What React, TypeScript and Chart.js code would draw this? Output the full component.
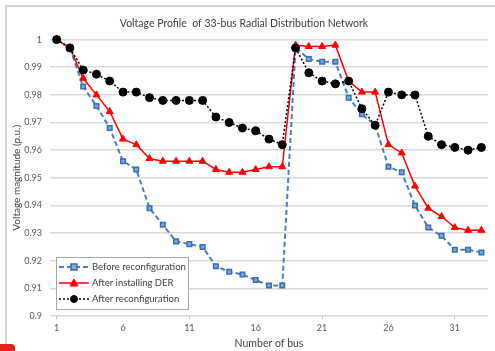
import React, { useEffect, useRef } from "react";
import { Chart, registerables } from "chart.js";

Chart.register(...registerables);

const buses = Array.from({ length: 33 }, (_, i) => String(i + 1));

const beforeReconfig = [
  1.0, 0.997, 0.983, 0.976, 0.968, 0.956, 0.953, 0.939, 0.933, 0.927, 0.926,
  0.925, 0.918, 0.916, 0.915, 0.913, 0.911, 0.911, 0.997, 0.993, 0.992, 0.992,
  0.979, 0.973, 0.969, 0.954, 0.952, 0.94, 0.932, 0.929, 0.924, 0.924, 0.923,
];

const afterDER = [
  1.0, 0.997, 0.986, 0.98, 0.974, 0.964, 0.962, 0.957, 0.956, 0.956, 0.956,
  0.956, 0.953, 0.952, 0.952, 0.953, 0.954, 0.954, 0.998, 0.9975, 0.9975, 0.998,
  0.985, 0.981, 0.981, 0.962, 0.959, 0.947, 0.939, 0.936, 0.932, 0.931, 0.931,
];

const afterReconfig = [
  1.0, 0.997, 0.989, 0.9875, 0.985, 0.981, 0.981, 0.979, 0.978, 0.978, 0.978,
  0.978, 0.972, 0.97, 0.968, 0.967, 0.964, 0.962, 0.997, 0.988, 0.985, 0.984,
  0.985, 0.975, 0.969, 0.981, 0.98, 0.98, 0.965, 0.962, 0.961, 0.96, 0.961,
];

const seriesNames = [
  "Before reconfiguration",
  "After installing DER",
  "After reconfiguration",
];

const FONT = "Lato";

const legendPlugin = {
  id: "insideLegend",
  afterDraw(chart: any) {
    const { ctx, chartArea } = chart;
    const x0 = chartArea.left + 6;
    const y0 = chartArea.bottom - 59;
    const w = 132;
    const h = 52;
    ctx.save();
    ctx.fillStyle = "#ffffff";
    ctx.fillRect(x0, y0, w, h);
    ctx.strokeStyle = "#a6a6a6";
    ctx.lineWidth = 1;
    ctx.strokeRect(x0 + 0.5, y0 + 0.5, w, h);
    chart.data.datasets.forEach((ds: any, i: number) => {
      const cy = y0 + 10 + i * 16;
      const lx1 = x0 + 3;
      const lx2 = x0 + 33;
      ctx.beginPath();
      ctx.setLineDash(ds.borderDash || []);
      ctx.strokeStyle = ds.borderColor;
      ctx.lineWidth = ds.borderWidth;
      ctx.moveTo(lx1, cy);
      ctx.lineTo(lx2, cy);
      ctx.stroke();
      ctx.setLineDash([]);
      const mx = (lx1 + lx2) / 2;
      ctx.fillStyle = ds.pointBackgroundColor;
      ctx.strokeStyle = ds.pointBorderColor;
      ctx.lineWidth = ds.pointBorderWidth;
      ctx.beginPath();
      if (ds.pointStyle === "rect") {
        ctx.rect(mx - 3, cy - 3, 6, 6);
      } else if (ds.pointStyle === "triangle") {
        ctx.moveTo(mx, cy - 4);
        ctx.lineTo(mx + 4, cy + 3);
        ctx.lineTo(mx - 4, cy + 3);
        ctx.closePath();
      } else {
        ctx.arc(mx, cy, 3.5, 0, Math.PI * 2);
      }
      ctx.fill();
      ctx.stroke();
      ctx.fillStyle = "#404040";
      ctx.font = `9.5px ${FONT}`;
      ctx.textBaseline = "middle";
      ctx.textAlign = "left";
      ctx.fillText(ds.label, x0 + 36, cy);
    });
    ctx.restore();
  },
};

export default function App() {
  const ref = useRef<HTMLCanvasElement | null>(null);

  useEffect(() => {
    if (!ref.current) return;
    const chart = new Chart(ref.current, {
      type: "line",
      data: {
        labels: buses,
        datasets: [
          {
            label: seriesNames[0],
            data: beforeReconfig,
            borderColor: "#4a7ebb",
            borderWidth: 2,
            borderDash: [5, 3],
            pointStyle: "rect",
            pointRadius: 3.2,
            pointBackgroundColor: "#7fa7d9",
            pointBorderColor: "#3a6cb0",
            pointBorderWidth: 1.5,
            order: 2,
            clip: false,
          } as any,
          {
            label: seriesNames[1],
            data: afterDER,
            borderColor: "#ff0000",
            borderWidth: 1.5,
            pointStyle: "triangle",
            pointRadius: 4,
            pointBackgroundColor: "#ff0000",
            pointBorderColor: "#ff0000",
            pointBorderWidth: 1,
            order: 1,
            clip: false,
          } as any,
          {
            label: seriesNames[2],
            data: afterReconfig,
            borderColor: "#000000",
            borderWidth: 1.5,
            borderDash: [2, 2],
            pointStyle: "circle",
            pointRadius: 4,
            pointBackgroundColor: "#000000",
            pointBorderColor: "#000000",
            pointBorderWidth: 1,
            order: 0,
            clip: false,
          } as any,
        ],
      },
      options: {
        responsive: false,
        animation: false,
        devicePixelRatio: 1,
        layout: { padding: { left: 0, right: 7, top: 0, bottom: 0 } },
        plugins: {
          legend: { display: false },
          tooltip: { enabled: false },
          title: {
            display: true,
            text: "Voltage Profile  of 33-bus Radial Distribution Network",
            color: "#404040",
            font: { family: FONT, size: 10.5, weight: "normal" },
            padding: { top: 17, bottom: 10 },
          },
        },
        scales: {
          x: {
            type: "category",
            offset: true,
            afterFit: (s: any) => {
              s.height = 35;
            },
            grid: {
              display: true,
              drawOnChartArea: false,
              drawTicks: true,
              tickLength: 3,
              color: (c: any) =>
                c.index % 10 === 0 ? "#bfbfbf" : "rgba(0,0,0,0)",
            },
            border: { display: false },
            ticks: {
              autoSkip: false,
              maxRotation: 0,
              padding: 4,
              color: "#595959",
              font: { family: FONT, size: 9 },
              callback: (_v: any, i: number) => (i % 5 === 0 ? buses[i] : ""),
            },
            title: {
              display: true,
              text: "Number of bus",
              color: "#404040",
              font: { family: FONT, size: 10.5 },
              padding: { top: 0, bottom: 1 },
            },
          },
          y: {
            min: 0.9,
            max: 1,
            afterFit: (s: any) => {
              s.width = 50;
            },
            grid: {
              color: "#d9d9d9",
              lineWidth: 1.5,
              drawTicks: false,
            },
            border: { display: false },
            ticks: {
              stepSize: 0.01,
              padding: 8,
              color: "#595959",
              font: { family: FONT, size: 9 },
              callback: (v: any) => String(Number(Number(v).toFixed(2))),
            },
            title: {
              display: true,
              text: "Voltage magnitude (p.u.)",
              color: "#404040",
              font: { family: FONT, size: 10 },
              padding: { top: 11, bottom: 0 },
            },
          },
        },
      },
      plugins: [legendPlugin],
    });
    return () => chart.destroy();
  }, []);

  return (
    <div
      style={{
        position: "absolute",
        left: 0,
        top: 0,
        width: 495,
        height: 351,
        background: "#ffffff",
        overflow: "hidden",
      }}
    >
      <div
        style={{
          position: "absolute",
          left: 5,
          top: 5,
          width: 520,
          height: 380,
          border: "2px solid #d4d4d4",
          boxSizing: "border-box",
        }}
      />
      <canvas
        ref={ref}
        width={495}
        height={351}
        style={{ position: "absolute", left: 0, top: 0 }}
      />
      <div
        style={{
          position: "absolute",
          left: 0,
          top: 344,
          width: 15,
          height: 12,
          background: "#e8231f",
          borderTopRightRadius: 4,
        }}
      />
    </div>
  );
}
